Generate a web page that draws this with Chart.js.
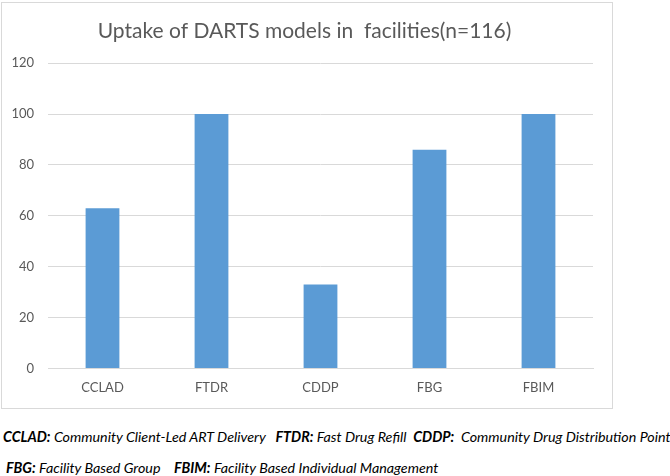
<!DOCTYPE html>
<html>
<head>
<meta charset="utf-8">
<script src="https://cdn.jsdelivr.net/npm/chart.js@4/dist/chart.umd.min.js"></script>
<style>
body{margin:0;background:#fff;width:670px;height:476px;overflow:hidden;position:relative;font-family:Lato,"Open Sans",sans-serif;}
#box{position:absolute;left:1px;top:2px;width:612px;height:407px;box-sizing:border-box;border:1px solid #d9d9d9;}
#box canvas{display:block;}
.note{position:absolute;font-style:italic;font-size:14.3px;color:#000;white-space:pre;}
.note b{font-weight:bold;}
</style>
</head>
<body>
<div id="box"><canvas id="myChart" width="610" height="405"></canvas></div>
<div class="note" style="left:3px;top:428px"><b>CCLAD:</b> Community Client-Led ART Delivery   <b>FTDR:</b> Fast Drug Refill  <b>CDDP:</b>  Community Drug Distribution Point</div>
<div class="note" style="left:6px;top:459px"><b>FBG:</b> Facility Based Group    <b>FBIM:</b> Facility Based Individual Management</div>
<script>
let models = ['CCLAD','FTDR','CDDP','FBG','FBIM'];
let uptake = [63,100,33,86,100];
let yTicks = [0,20,40,60,80,100,120];

function Place(){
  const ctx = document.getElementById('myChart');
  new Chart(ctx, {
    type: 'bar',
    data: {
      labels: models,
      datasets: [{
        data: uptake,
        backgroundColor: '#5b9bd5',
        barPercentage: 0.62,
        categoryPercentage: 0.5
      }]
    },
    options: {
      responsive: false,
      animation: false,
      layout: {padding: {left: 0, right: 5, top: 0, bottom: 8}},
      plugins: {
        legend: {display: false},
        tooltip: {enabled: false},
        title: {
          display: true,
          text: 'Uptake of DARTS models in  facilities(n=116)',
          color: '#595959',
          font: {family: 'Lato', size: 21, weight: 'normal'},
          padding: {top: 16, bottom: 19}
        }
      },
      scales: {
        x: {
          grid: {display: false},
          border: {color: '#d9d9d9'},
          ticks: {color: '#595959', font: {family: 'Lato', size: 13}, padding: 4}
        },
        y: {
          min: 0,
          max: 120,
          afterBuildTicks: function(axis){ axis.ticks = yTicks.map(v => ({value: v})); },
          afterFit: function(axis){ axis.width = 46; },
          grid: {color: '#d9d9d9', drawTicks: false},
          border: {display: false},
          ticks: {color: '#595959', font: {family: 'Lato', size: 13}, padding: 14}
        },
        // empty right axis, only to keep the plot area off the right edge
        yRight: {
          position: 'right',
          min: 0,
          max: 120,
          afterFit: function(axis){ axis.width = 14; },
          grid: {display: false},
          border: {display: false},
          ticks: {display: false}
        }
      }
    }
  });
}

Place();
</script>
</body>
</html>
